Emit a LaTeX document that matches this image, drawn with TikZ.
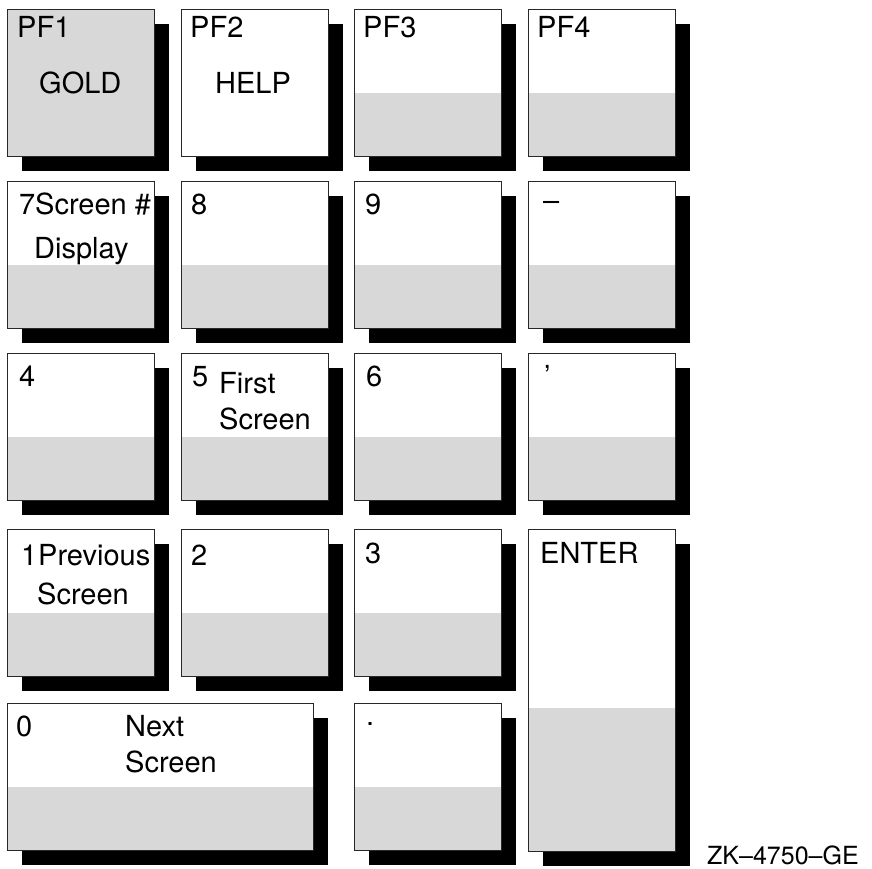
\documentclass[tikz,border=0pt]{standalone}
\usepackage{fontspec}
\setmainfont{TeX Gyre Heros}
\usetikzlibrary{shadows,positioning}
\definecolor{keygray}{RGB}{216,216,216}
\definecolor{keyedge}{RGB}{40,40,40}

\begin{document}
\begin{tikzpicture}[
    x=1pt, y=-1pt,
    key/.style={rectangle, draw=keyedge, line width=1.3pt, fill=white, anchor=north west, minimum width=147pt, minimum height=147pt, inner sep=0pt, drop shadow={shadow xshift=14pt, shadow yshift=-14pt, opacity=1, fill=black}},
    banded/.style={path picture={\fill[keygray] (path picture bounding box.south west) rectangle ([yshift=#1]path picture bounding box.south east);}},
    banded/.default=64pt,
    legend/.style={anchor=base west, inner sep=0pt, font=\fontsize{29}{34}\selectfont},
    figid/.style={anchor=base west, inner sep=0pt, font=\fontsize{25}{28}\selectfont}
]
\useasboundingbox (0,0) rectangle (872,869);

% PF row
\node[key, fill=keygray] (pf1) at (7,9) {};
\node[key] (pf2) at (181,9) {};
\node[key, banded] (pf3) at (354,9) {};
\node[key, banded] (pf4) at (528,9) {};

% Row 7 8 9 -
\node[key, banded] (key7) at (7,181) {};
\node[key, banded] (key8) at (181,181) {};
\node[key, banded] (key9) at (354,181) {};
\node[key, banded] (keyminus) at (528,181) {};

% Row 4 5 6 ,
\node[key, banded] (key4) at (7,353) {};
\node[key, banded] (key5) at (181,353) {};
\node[key, banded] (key6) at (354,353) {};
\node[key, banded] (keycomma) at (528,353) {};

% Row 1 2 3 and ENTER
\node[key, banded] (key1) at (7,529) {};
\node[key, banded] (key2) at (181,529) {};
\node[key, banded] (key3) at (354,529) {};
\node[key, banded=144pt, minimum height=322pt] (keyenter) at (528,529) {};

% Row 0 .
\node[key, banded, minimum width=306pt] (key0) at (7,703) {};
\node[key, banded] (keydot) at (354,703) {};

% Legends
\node[legend] (pf1-lbl) at ([shift={(10pt,-29pt)}]pf1.north west) {PF1};
\node[legend] (gold) at ([shift={(32pt,-85pt)}]pf1.north west) {GOLD};
\node[legend] (pf2-lbl) at ([shift={(9pt,-29pt)}]pf2.north west) {PF2};
\node[legend] (help) at ([shift={(34pt,-85pt)}]pf2.north west) {HELP};
\node[legend] (pf3-lbl) at ([shift={(9pt,-29pt)}]pf3.north west) {PF3};
\node[legend] (pf4-lbl) at ([shift={(9pt,-29pt)}]pf4.north west) {PF4};

\node[legend] (key7-lbl) at ([shift={(12pt,-33pt)}]key7.north west) {7};
\node[legend] (scrnum) at ([shift={(28pt,-33pt)}]key7.north west) {Screen \#};
\node[legend] (display) at ([shift={(27pt,-77pt)}]key7.north west) {Display};
\node[legend] (key8-lbl) at ([shift={(10pt,-33pt)}]key8.north west) {8};
\node[legend] (key9-lbl) at ([shift={(11pt,-33pt)}]key9.north west) {9};
\node[legend] (minus-lbl) at ([shift={(15pt,-29pt)}]keyminus.north west) {--};

\node[legend] (key4-lbl) at ([shift={(12pt,-33pt)}]key4.north west) {4};
\node[legend] (key5-lbl) at ([shift={(11pt,-33pt)}]key5.north west) {5};
\node[legend] (first) at ([shift={(38pt,-40pt)}]key5.north west) {First};
\node[legend] (firstscr) at ([shift={(38pt,-76pt)}]key5.north west) {Screen};
\node[legend] (key6-lbl) at ([shift={(12pt,-33pt)}]key6.north west) {6};
\node[legend] (comma-lbl) at ([shift={(16pt,-33pt)}]keycomma.north west) {'};

\node[legend] (key1-lbl) at ([shift={(14pt,-36pt)}]key1.north west) {1};
\node[legend] (previous) at ([shift={(31pt,-36pt)}]key1.north west) {Previous};
\node[legend] (prevscr) at ([shift={(30pt,-75pt)}]key1.north west) {Screen};
\node[legend] (key2-lbl) at ([shift={(10pt,-36pt)}]key2.north west) {2};
\node[legend] (key3-lbl) at ([shift={(11pt,-34pt)}]key3.north west) {3};
\node[legend] (enter-lbl) at ([shift={(12pt,-34pt)}]keyenter.north west) {ENTER};

\node[legend] (key0-lbl) at ([shift={(9pt,-33pt)}]key0.north west) {0};
\node[legend] (next) at ([shift={(118pt,-33pt)}]key0.north west) {Next};
\node[legend] (nextscr) at ([shift={(118pt,-69pt)}]key0.north west) {Screen};
\node[legend] (dot-lbl) at ([shift={(12pt,-22pt)}]keydot.north west) {.};

% Figure id
\node[figid] (zk) at (707,864) {ZK--4750--GE};

\end{tikzpicture}
\end{document}
